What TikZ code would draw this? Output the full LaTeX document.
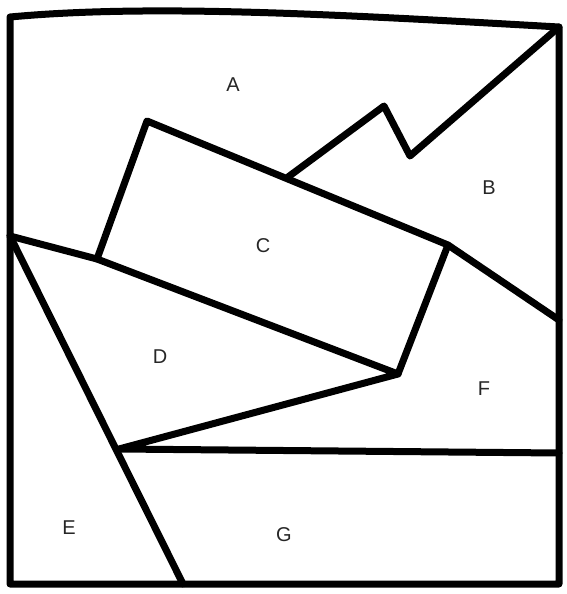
\documentclass[tikz,border=0pt]{standalone}
\usepackage{fontspec}
\setsansfont{Liberation Sans}
\usetikzlibrary{calc}
\tikzset{edge/.style={line width=7pt,draw=black,line join=round,line cap=round},
  region/.style={font=\sffamily\fontsize{20}{20}\selectfont,text=black!85}}
\begin{document}
\begin{tikzpicture}[x=1pt,y=-1pt]
\useasboundingbox (0,0) rectangle (566,594);
% corners of the frame
\coordinate (tl) at (10,17);
\coordinate (tr) at (559,27);
\coordinate (br) at (559,584);
\coordinate (bl) at (10,584);
% points where the lines meet
\coordinate (cnw) at (147,121);
\coordinate (cne) at (448,245);
\coordinate (cse) at (398,374);
\coordinate (csw) at (97,259);
\coordinate (lj) at (10,236);
\coordinate (zig) at (288,177);
\coordinate (peak) at (384,106);
\coordinate (dip) at (410,156);
\coordinate (rj) at (559,320);
\coordinate (bj) at (119,449);
\coordinate (rh) at (559,453);
\coordinate (bb) at (183,584);
% frame
\draw[edge] (tl) .. controls (150,4) and (330,14) .. (tr) -- (br) -- (bl) -- cycle;
% inner lines
\draw[edge] (tr) -- (dip) -- (peak) -- (zig);
\draw[edge] (csw) -- (cnw) -- (cne) -- (cse);
\draw[edge] (lj) -- (csw) -- (cse) -- (bj) -- (rh);
\draw[edge] (cne) -- (rj);
\draw[edge] (lj) -- (bb);
% labels of the regions
\node[region] (a) at (233,85) {A};
\node[region] (b) at (489,188) {B};
\node[region] (c) at (263,246) {C};
\node[region] (d) at (160,357) {D};
\node[region] (f) at (484,389) {F};
\node[region] (e) at (69,528) {E};
\node[region] (g) at (284,535) {G};
\end{tikzpicture}
\end{document}
